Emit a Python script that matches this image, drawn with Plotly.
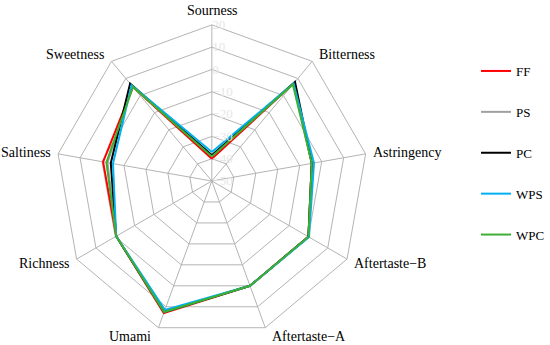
import math
import plotly.graph_objects as go

# taste attributes, clockwise from the top
attributes = ["Sourness", "Bitterness", "Astringency", "Aftertaste\u2212B",
              "Aftertaste\u2212A", "Umami", "Richness", "Saltiness", "Sweetness"]

ff = [-40, 7, -4.5, 0, 0, 13, -0.5, -0.5, 5]
ps = [-38.5, 7, -4.5, 0, 0, 12.5, -0.5, -2.5, 5.5]
pc = [-38.5, 8, -4.5, 0, 0, 12.5, -0.5, -4, 7]
wps = [-37, 7, -3.5, 0.3, 0, 11.5, -0.5, -5, 6]
wpc = [-39, 6.5, -4.5, 0, 0, 12.5, -0.5, -2, 5]

series = [("FF", ff, "#ff0000"), ("PS", ps, "#a0a0a0"), ("PC", pc, "#000000"),
          ("WPS", wps, "#00b0f0"), ("WPC", wpc, "#3cb034")]

radial_ticks = [-50, -40, -30, -20, -10, 0, 10, 20]

fig = go.Figure()
for name, vals, col in series:
    fig.add_trace(go.Scatterpolar(
        r=vals + vals[:1],
        theta=attributes + attributes[:1],
        mode="lines",
        name=name,
        legendgroup=name,
        line=dict(color=col, width=2),
    ))

W, H = 550, 345
# centre and outer radius of the nonagon, pixels
cx, cy, R = 213, 181, 157

# category labels sit beside the outer vertices (like the original), not below them
for i, lab in enumerate(attributes):
    a = math.radians(90 - 360 / len(attributes) * i)
    vx = cx + R * math.cos(a)
    vy = cy - R * math.sin(a)
    c = math.cos(a)
    if abs(c) < 0.2:
        xa, xs, ys, ya = "center", 1, 4, "bottom"
    else:
        xa = "left" if c > 0 else "right"
        xs = 5 if c > 0 else -5
        ys = 8 * math.sin(a)
        ya = "middle"
    fig.add_annotation(
        x=vx / W, y=1 - vy / H, xref="paper", yref="paper",
        text=lab, showarrow=False, xanchor=xa, yanchor=ya,
        xshift=xs, yshift=ys,
        font=dict(size=14, family="Liberation Serif", color="black"),
    )

fig.update_layout(
    width=W, height=H,
    margin=dict(l=0, r=0, t=0, b=0),
    paper_bgcolor="white",
    font=dict(family="Liberation Serif", size=13, color="black"),
    polar=dict(
        domain=dict(x=[(cx - R) / W, (cx + R) / W],
                    y=[(H - cy - R) / H, (H - cy + R) / H]),
        bgcolor="white",
        gridshape="linear",
        angularaxis=dict(
            rotation=90, direction="clockwise",
            categoryorder="array", categoryarray=attributes,
            showline=True, linecolor="#b4b4b4", linewidth=1,
            gridcolor="#b4b4b4", gridwidth=1,
            ticks="", showticklabels=False,
        ),
        radialaxis=dict(
            range=[-50, 20], tickvals=radial_ticks,
            angle=90, tickangle=90, side="clockwise",
            showline=False, gridcolor="#b4b4b4", gridwidth=1,
            ticks="", tickfont=dict(size=13, color="#e6e6e6"),
        ),
    ),
    legend=dict(
        x=479 / W, y=1 - 56 / H, xanchor="left", yanchor="top",
        tracegroupgap=21, bgcolor="rgba(0,0,0,0)",
        font=dict(size=13, family="Liberation Serif"),
    ),
)

# the browser's default 8px body margin would push the figure off the window
fig.write_html("out.html", config={"displayModeBar": False},
               post_script="document.body.style.margin='0';")
